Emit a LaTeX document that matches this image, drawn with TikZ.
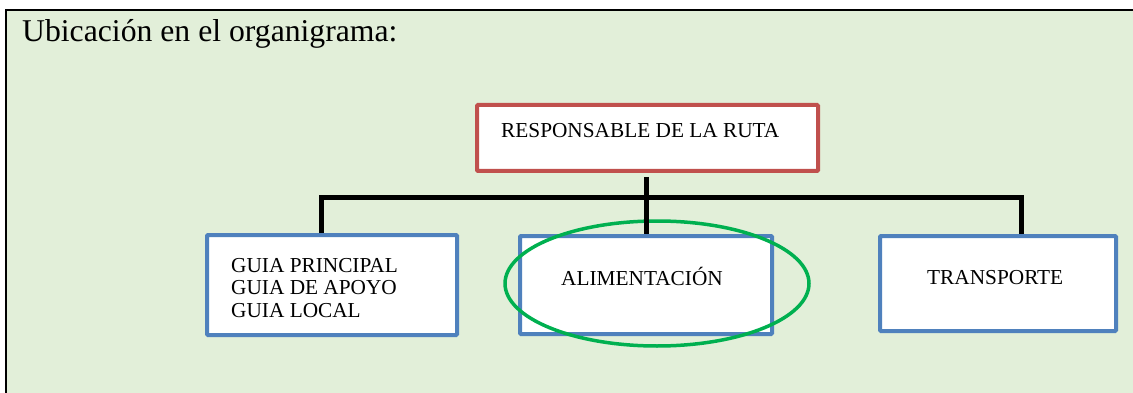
\documentclass[tikz,border=0pt]{standalone}
\usepackage{fontspec}
\setmainfont{Liberation Serif}
\usetikzlibrary{shapes.geometric}
\definecolor{bgGreen}{HTML}{E2EFD9}
\definecolor{boxRed}{HTML}{C0504D}
\definecolor{boxBlue}{HTML}{4F81BD}
\definecolor{ovalGreen}{HTML}{00B050}
\tikzset{
  redbox/.style={draw=boxRed, line width=4pt, fill=white, rounded corners=1pt},
  bluebox/.style={draw=boxBlue, line width=4pt, fill=white, rounded corners=1pt},
  boxtext/.style={anchor=base west, inner sep=0pt, font=\fontsize{21.3}{24}\selectfont},
  conn/.style={draw=black, line width=5pt, line join=miter}
}
\begin{document}
\begin{tikzpicture}[x=1pt,y=-1pt]
\useasboundingbox (0,0) rectangle (1133,393);
% background panel
\fill[bgGreen] (6,10) rectangle (1133,393);
\draw[line width=1.5pt] (1133,10) -- (5,10);
\draw[line width=2pt] (6,9.5) -- (6,393);
% title
\node[anchor=base west, inner sep=0pt, font=\fontsize{31.7}{36}\selectfont] (title) at (22,42) {Ubicación en el organigrama:};
% boxes
\node[redbox, minimum width=341pt, minimum height=66pt, inner sep=0pt] (resp) at (647.5,138) {};
\node[bluebox, minimum width=250pt, minimum height=100pt, inner sep=0pt] (guia) at (332,285) {};
\node[bluebox, minimum width=252pt, minimum height=98pt, inner sep=0pt] (alim) at (646,285) {};
\node[bluebox, minimum width=236pt, minimum height=95pt, inner sep=0pt] (trans) at (998,283.5) {};
% texts
\node[boxtext] (resptxt) at (501,138) {RESPONSABLE DE LA RUTA};
\node[boxtext] (g1) at (231,272) {GUIA PRINCIPAL};
\node[boxtext] (g2) at (231,294) {GUIA DE APOYO};
\node[boxtext] (g3) at (231,317) {GUIA LOCAL};
\node[boxtext] (alimtxt) at (561,285) {ALIMENTACIÓN};
\node[boxtext] (transtxt) at (927,284) {TRANSPORTE};
% highlight oval
\node[draw=ovalGreen, line width=3.5pt, ellipse, minimum width=304pt, minimum height=125pt, inner sep=0pt] (oval) at (657,283.5) {};
% connectors
\coordinate (jm) at (646,197);
\coordinate (jl) at (321,197);
\coordinate (jr) at (1021,197);
\draw[conn] ([yshift=-4pt]resp.south -| jm) -- (alim.north -| jm);
\draw[conn] (guia.north -| jl) -- (jl) -- (jr) -- (trans.north -| jr);
\end{tikzpicture}
\end{document}
